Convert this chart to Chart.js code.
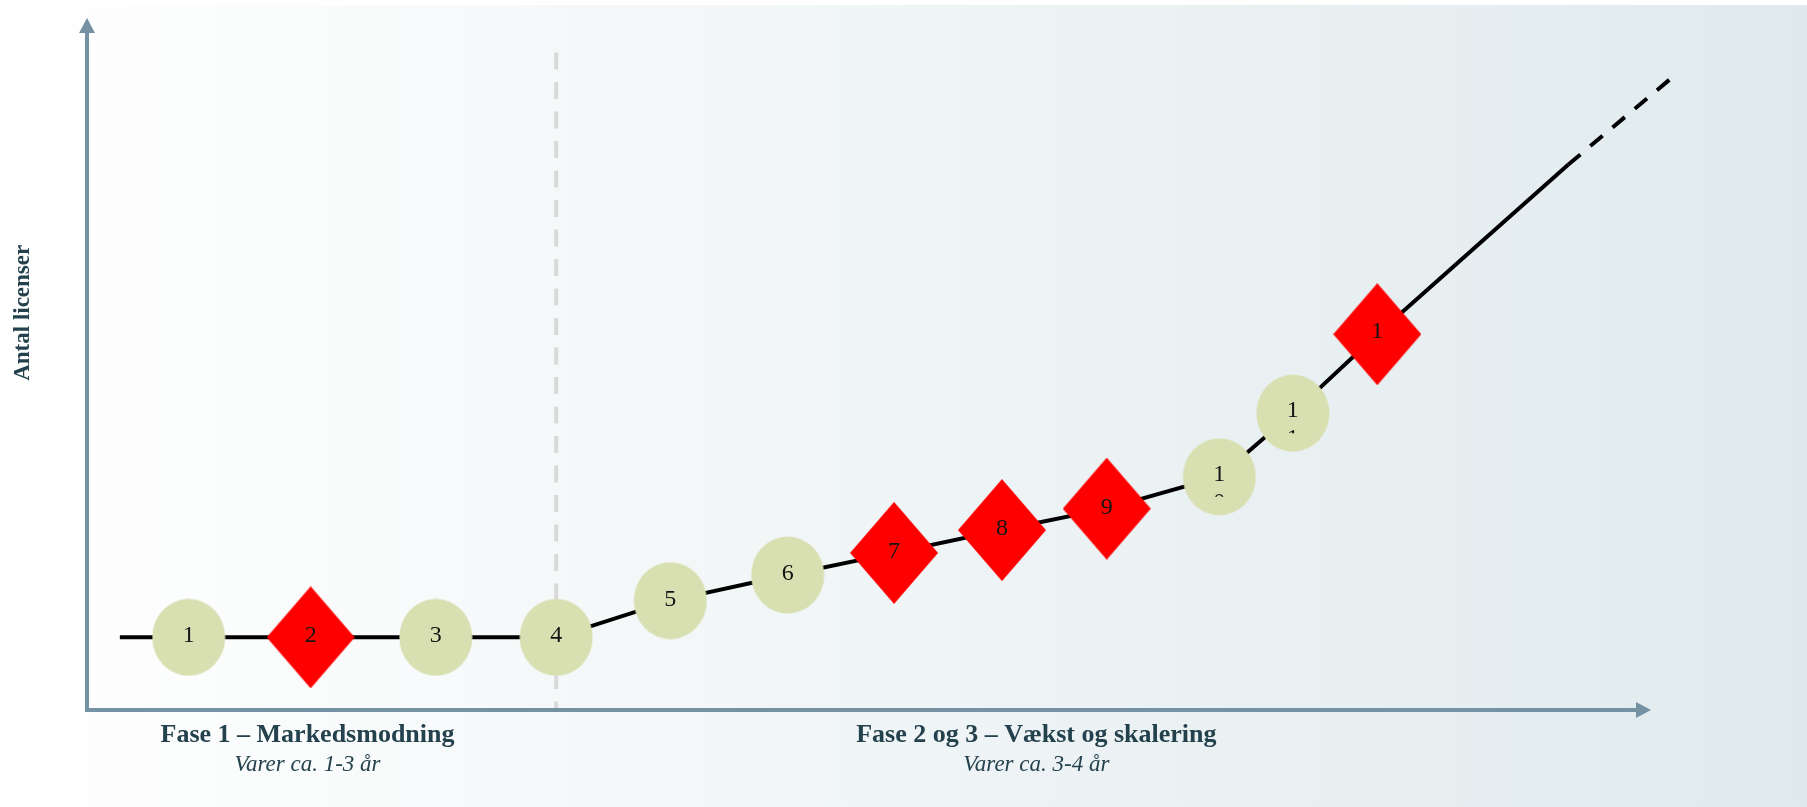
<!doctype html>
<html>
<head>
<meta charset="utf-8">
<title>Antal licenser</title>
<script src="https://cdn.jsdelivr.net/npm/chart.js@4.4.1/dist/chart.umd.min.js"></script>
<style>
  body { margin: 0; background: #fff; }
</style>
</head>
<body>
<canvas id="phaseChart" width="1807" height="807"></canvas>
<script>
// x = tid (0..100 along the axis), y = antal licenser (0..100)
var stepLabels = ['1', '2', '3', '4', '5', '6', '7', '8', '9', '10', '11', '12'];
var stepKind   = ['cirkel', 'ruder', 'cirkel', 'cirkel', 'cirkel', 'cirkel',
                  'ruder', 'ruder', 'ruder', 'cirkel', 'cirkel', 'ruder'];
var stepX = [6.5, 14.3, 22.3, 30.0, 37.3, 44.8, 51.6, 58.5, 65.2, 72.4, 77.1, 82.5];
var stepY = [10.5, 10.5, 10.5, 10.5, 15.8, 19.5, 22.7, 26.0, 29.1, 33.7, 42.9, 54.3];

// where the trend line starts, where the solid part ends, and the dashed outlook
var startX = 2.1, startY = 10.5;
var solidEndX = 94.7, solidEndY = 78.8;
var outlookX = 101.4, outlookY = 91.5;

var phaseBreak = 30.0;
var phaseTitles = ['Fase 1 – Markedsmodning', 'Fase 2 og 3 – Vækst og skalering'];
var phaseNotes  = ['Varer ca. 1-3 år', 'Varer ca. 3-4 år'];
var yTitle = 'Antal licenser';

var axisColor = '#7592a5';
var textColor = '#24424d';
var serif = '"Liberation Serif", "Times New Roman", serif';

function pts(xs, ys) {
  return xs.map(function (x, i) { return { x: x, y: ys[i] }; });
}

// marker shapes used as point styles
function markerImage(kind) {
  var c = document.createElement('canvas');
  var g = c.getContext('2d');
  g.beginPath();
  if (kind === 'ruder') {
    c.width = 88; c.height = 102;
    g.fillStyle = '#ff0000';
    g.moveTo(44, 0); g.lineTo(88, 51); g.lineTo(44, 102); g.lineTo(0, 51);
    g.closePath();
  } else {
    c.width = 74; c.height = 78;
    g.fillStyle = '#d8dfb1';
    g.ellipse(37, 39, 36.5, 38.5, 0, 0, Math.PI * 2);
  }
  g.fill();
  return c;
}
var stepImages = stepKind.map(markerImage);

var backdrop = {
  id: 'backdrop',
  beforeDraw: function (chart) {
    var ctx = chart.ctx, w = chart.width, h = chart.height;
    ctx.save();
    ctx.fillStyle = '#ffffff';
    ctx.fillRect(0, 0, w, h);
    var grad = ctx.createLinearGradient(0, 0, w, 0);
    grad.addColorStop(0, '#ffffff');
    grad.addColorStop(1, '#e0eaed');
    ctx.fillStyle = grad;
    ctx.fillRect(0, 5, w, h - 5);
    ctx.restore();
  }
};

var guides = {
  id: 'guides',
  beforeDatasetsDraw: function (chart) {
    var ctx = chart.ctx, xs = chart.scales.x, ys = chart.scales.y, a = chart.chartArea;
    var x0 = xs.getPixelForValue(0), y0 = ys.getPixelForValue(0);
    ctx.save();

    // phase divider
    var bx = xs.getPixelForValue(phaseBreak);
    ctx.strokeStyle = '#d9d9d9';
    ctx.lineWidth = 4;
    ctx.setLineDash([17, 12.5]);
    ctx.beginPath();
    ctx.moveTo(bx, ys.getPixelForValue(95));
    ctx.lineTo(bx, y0);
    ctx.stroke();
    ctx.setLineDash([]);

    // axes with arrow heads
    ctx.strokeStyle = axisColor;
    ctx.fillStyle = axisColor;
    ctx.lineWidth = 4;
    ctx.beginPath();
    ctx.moveTo(x0, a.top + 14);
    ctx.lineTo(x0, y0);
    ctx.lineTo(a.right - 14, y0);
    ctx.stroke();
    ctx.beginPath();
    ctx.moveTo(x0, a.top);
    ctx.lineTo(x0 + 8, a.top + 15);
    ctx.lineTo(x0 - 8, a.top + 15);
    ctx.closePath();
    ctx.fill();
    ctx.beginPath();
    ctx.moveTo(a.right, y0);
    ctx.lineTo(a.right - 15, y0 - 8);
    ctx.lineTo(a.right - 15, y0 + 8);
    ctx.closePath();
    ctx.fill();

    // titles
    ctx.fillStyle = textColor;
    ctx.textAlign = 'center';
    ctx.textBaseline = 'alphabetic';
    var cx = [xs.getPixelForValue(14.1), xs.getPixelForValue(60.7)];
    for (var i = 0; i < phaseTitles.length; i++) {
      ctx.font = 'bold 26px ' + serif;
      ctx.fillText(phaseTitles[i], cx[i], y0 + 32);
      ctx.font = 'italic 23px ' + serif;
      ctx.fillText(phaseNotes[i], cx[i], y0 + 61);
    }
    ctx.translate(23, ys.getPixelForValue(57.4));
    ctx.rotate(-Math.PI / 2);
    ctx.font = 'bold 23px ' + serif;
    ctx.textBaseline = 'middle';
    ctx.fillText(yTitle, 0, 0);
    ctx.restore();
  }
};

// numbers inside the markers; two-digit numbers wrap in the narrow text box
var stepText = {
  id: 'stepText',
  afterDatasetsDraw: function (chart) {
    var ctx = chart.ctx;
    var meta = chart.getDatasetMeta(0);
    ctx.save();
    ctx.fillStyle = '#141414';
    ctx.font = '24px ' + serif;
    ctx.textAlign = 'center';
    ctx.textBaseline = 'alphabetic';
    meta.data.forEach(function (el, i) {
      var s = stepLabels[i];
      if (s.length === 1) {
        ctx.fillText(s, el.x, el.y + 5);
        return;
      }
      ctx.fillText(s.charAt(0), el.x, el.y + 4);
      ctx.save();
      ctx.beginPath();
      ctx.rect(el.x - 20, el.y, 40, stepKind[i] === 'ruder' ? 12 : 20);
      ctx.clip();
      ctx.fillText(s.charAt(1), el.x, el.y + 32);
      ctx.restore();
    });
    ctx.restore();
  }
};

var trendX = [startX].concat(stepX, [solidEndX]);
var trendY = [startY].concat(stepY, [solidEndY]);

new Chart(document.getElementById('phaseChart').getContext('2d'), {
  type: 'line',
  data: {
    datasets: [
      {
        data: pts(stepX, stepY),
        showLine: false,
        pointRadius: 36,
        pointStyle: function (c) { return stepImages[c.dataIndex]; },
        order: 0
      },
      {
        data: pts(trendX, trendY),
        borderColor: '#000000',
        borderWidth: 4,
        pointRadius: 0,
        tension: 0,
        clip: false,
        order: 1
      },
      {
        data: pts([solidEndX, outlookX], [solidEndY, outlookY]),
        borderColor: '#000000',
        borderWidth: 4,
        borderDash: [16, 13],
        pointRadius: 0,
        clip: false,
        order: 2
      }
    ]
  },
  options: {
    responsive: false,
    animation: false,
    events: [],
    layout: { autoPadding: false, padding: { left: 87, right: 156, top: 18, bottom: 97 } },
    scales: {
      x: { type: 'linear', min: 0, max: 100, display: false },
      y: { type: 'linear', min: 0, max: 100, display: false }
    },
    plugins: {
      legend: { display: false },
      tooltip: { enabled: false }
    }
  },
  plugins: [backdrop, guides, stepText]
});
</script>
</body>
</html>
